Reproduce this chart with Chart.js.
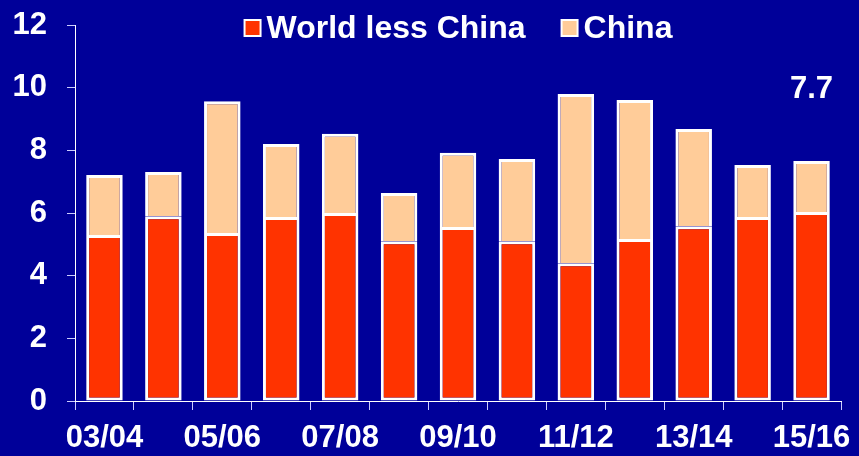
<!DOCTYPE html>
<html>
<head>
<meta charset="utf-8">
<script src="https://cdn.jsdelivr.net/npm/chart.js@4"></script>
<style>
  html, body { margin: 0; padding: 0; background: #000099; }
  #wrap { width: 859px; height: 456px; }
</style>
</head>
<body>
<div id="wrap"><canvas id="c" width="859" height="456"></canvas></div>
<script>
const categories = ['03/04','04/05','05/06','06/07','07/08','08/09','09/10','10/11','11/12','12/13','13/14','14/15','15/16'];
const worldLessChina = [5.30, 5.90, 5.36, 5.87, 6.00, 5.10, 5.55, 5.10, 4.40, 5.17, 5.58, 5.87, 6.03];
const china = [1.91, 1.41, 4.21, 2.33, 2.53, 1.54, 2.37, 2.62, 5.40, 4.44, 3.10, 1.66, 1.63];
const seriesNames = ['World less China', 'China'];
const yTicks = [0, 2, 4, 6, 8, 10, 12];
const annotationText = '7.7';

const BG = '#000099';
const RED = '#FF3300';
const PEACH = '#FFCC99';
const FONT = '"Liberation Sans", Arial, sans-serif';

const bgPlugin = {
  id: 'bg',
  beforeDraw(chart) {
    const ctx = chart.ctx;
    ctx.save();
    ctx.fillStyle = BG;
    ctx.fillRect(0, 0, chart.width, chart.height);
    ctx.restore();
  }
};

const legendPlugin = {
  id: 'customLegend',
  afterDraw(chart) {
    const ctx = chart.ctx;
    const area = chart.chartArea;
    ctx.save();
    ctx.font = 'bold 32px ' + FONT;
    const box = 18, gap = 5, spacing = 35;
    const colors = [RED, PEACH];
    const widths = seriesNames.map(n => box + gap + ctx.measureText(n).width);
    const total = widths.reduce((a, b) => a + b, 0) + spacing * (widths.length - 1);
    let x = (area.left + area.right) / 2 - total / 2;
    const boxTop = 19;
    const baseline = 38;
    seriesNames.forEach((n, i) => {
      ctx.fillStyle = '#FFFFFF';
      ctx.fillRect(x, boxTop, box, box);
      ctx.fillStyle = colors[i];
      ctx.fillRect(x + 2, boxTop + 2, box - 4, box - 4);
      ctx.fillStyle = '#FFFFFF';
      ctx.textBaseline = 'alphabetic';
      ctx.textAlign = 'left';
      ctx.fillText(n, x + box + gap, baseline);
      x += widths[i] + spacing;
    });
    // annotation above last bar
    ctx.font = 'bold 31px ' + FONT;
    const xs = chart.scales.x;
    const cx = xs.getPixelForValue(categories.length - 1);
    ctx.textAlign = 'center';
    ctx.fillText(annotationText, cx, 98);
    ctx.restore();
  }
};

new Chart(document.getElementById('c'), {
  type: 'bar',
  data: {
    labels: categories,
    datasets: [
      {
        label: seriesNames[0],
        data: worldLessChina,
        backgroundColor: RED,
        borderColor: '#FFFFFF',
        borderWidth: 3,
        borderSkipped: false
      },
      {
        label: seriesNames[1],
        data: china,
        backgroundColor: PEACH,
        borderColor: '#FFFFFF',
        borderWidth: 3,
        borderSkipped: 'start'
      }
    ]
  },
  options: {
    responsive: false,
    animation: false,
    devicePixelRatio: 1,
    layout: { padding: { top: 25, right: 18, left: 0, bottom: 0 } },
    datasets: { bar: { barPercentage: 0.62, categoryPercentage: 1.0 } },
    plugins: {
      legend: { display: false },
      tooltip: { enabled: false }
    },
    scales: {
      x: {
        stacked: true,
        afterFit(s) { s.height = 55; s.paddingLeft = 0; s.paddingRight = 0; },
        border: { display: true, color: '#FFFFFF', width: 1 },
        grid: { display: true, drawOnChartArea: false, drawTicks: true, tickLength: 9, color: '#CCCCFF', offset: true },
        ticks: {
          autoSkip: false,
          maxRotation: 0,
          minRotation: 0,
          padding: 10,
          color: '#FFFFFF',
          font: { family: FONT, size: 31, weight: 'bold' },
          callback(v, i) { return i % 2 === 0 ? categories[i] : ''; }
        }
      },
      y: {
        stacked: true,
        min: 0,
        max: 12,
        afterFit(s) { s.width = 75; s.paddingTop = 0; s.paddingBottom = 0; },
        afterBuildTicks(s) { s.ticks = yTicks.map(v => ({ value: v })); },
        border: { display: true, color: '#FFFFFF', width: 1 },
        grid: { display: true, drawOnChartArea: false, drawTicks: true, tickLength: 8, color: '#CCCCFF' },
        ticks: {
          padding: 20,
          color: '#FFFFFF',
          font: { family: FONT, size: 31, weight: 'bold' }
        }
      }
    }
  },
  plugins: [bgPlugin, legendPlugin]
});
</script>
</body>
</html>
